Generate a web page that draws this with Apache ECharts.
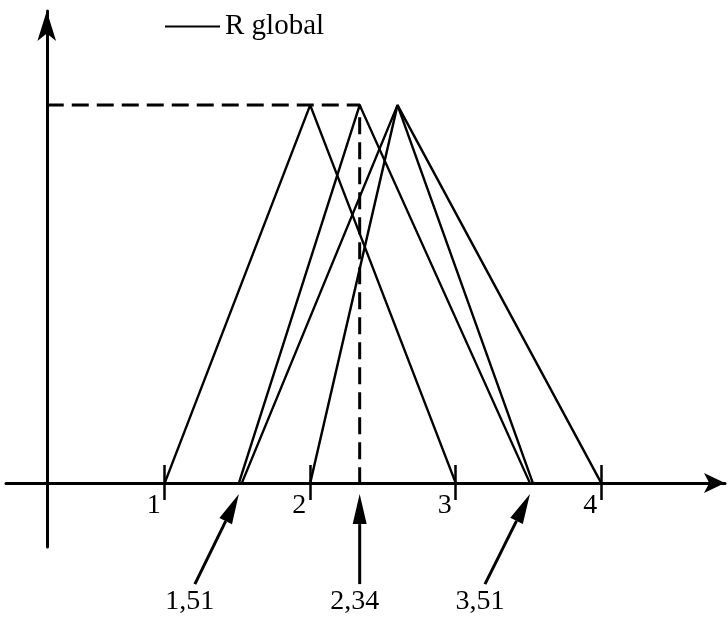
<!DOCTYPE html>
<html>
<head>
<meta charset="utf-8">
<script src="https://cdn.jsdelivr.net/npm/echarts@6/dist/echarts.min.js"></script>
<style>
  html, body { margin: 0; padding: 0; background: #fff; }
  #chart { width: 728px; height: 618px; }
</style>
</head>
<body>
<div id="chart"></div>
<script>
// Triangular fuzzy numbers: [left foot, peak, right foot]
const ratingA = [1, 2, 3];
const ratingB = [1.53, 2.6, 3.53];
const ratingC = [2, 2.6, 4];
const rGlobal = [1.51, 2.34, 3.51];
const xTicks = [1, 2, 3, 4];

const FONT = '"Liberation Serif", "DejaVu Serif", serif';
const INK = '#000';

// x extent of the drawing and where the vertical axis crosses it
const X_MIN = -0.09, X_MAX = 4.85, Y_AXIS_AT = 0.19;
const Y_MIN = -0.169, Y_MAX = 1.249;

function triangle(t) {
  return [[t[0], 0], [t[1], 1], [t[2], 0]];
}

function lineSeries(name, data, extra) {
  return Object.assign({
    name: name,
    type: 'line',
    data: data,
    symbol: 'none',
    showSymbol: false,
    silent: true,
    color: INK,
    lineStyle: { color: INK, width: 2.4 },
    z: 3
  }, extra || {});
}

// Arrows under the axis pointing at the global rating's feet and peak
const arrowLean = [-44, 0, -45];
function renderArrow(params, api) {
  const v = api.value(0);
  const base = api.coord([v, 0]);
  const tip = [base[0], base[1] + 11];
  const lean = arrowLean[params.dataIndex];
  const tail = [tip[0] + lean, tip[1] + 90];
  const dx = tip[0] - tail[0], dy = tip[1] - tail[1];
  const len = Math.sqrt(dx * dx + dy * dy);
  const ux = dx / len, uy = dy / len;
  const headLen = 30, headHalf = 7;
  const hb = [tip[0] - ux * headLen, tip[1] - uy * headLen];
  const px = -uy, py = ux;
  return {
    type: 'group',
    children: [
      {
        type: 'line',
        shape: { x1: tail[0], y1: tail[1], x2: hb[0], y2: hb[1] },
        style: { stroke: INK, lineWidth: 3 }
      },
      {
        type: 'polygon',
        shape: { points: [tip, [hb[0] + px * headHalf, hb[1] + py * headHalf], [hb[0] - px * headHalf, hb[1] - py * headHalf]] },
        style: { fill: INK }
      },
      {
        type: 'text',
        x: tail[0] - 5,
        y: tail[1] + 18,
        style: {
          text: v.toFixed(2).replace('.', ','),
          font: '28px ' + FONT,
          fill: INK,
          align: 'center',
          verticalAlign: 'middle'
        }
      }
    ]
  };
}

const chart = echarts.init(document.getElementById('chart'), null, { renderer: 'canvas' });

chart.setOption({
  animation: false,
  backgroundColor: '#fff',
  color: [INK],
  textStyle: { fontFamily: FONT, color: INK },
  legend: {
    data: [{ name: 'R global', icon: 'rect' }],
    left: 165,
    top: 12,
    padding: 0,
    itemWidth: 55,
    itemHeight: 2,
    itemStyle: { color: INK, borderWidth: 0 },
    textStyle: { fontFamily: FONT, fontSize: 29, color: INK, padding: [0, 0, 0, 0] },
    selectedMode: false
  },
  grid: { left: 6, right: 3, top: 11, bottom: 71, containLabel: false },
  xAxis: [
    {
      type: 'value',
      position: 'bottom',
      min: X_MIN,
      max: X_MAX,
      axisLine: {
        onZero: true,
        onZeroAxisIndex: 0,
        lineStyle: { color: INK, width: 3 },
        symbol: ['none', 'arrow'],
        symbolSize: [15, 21]
      },
      axisTick: {
        show: true,
        customValues: xTicks,
        length: 17,
        lineStyle: { color: INK, width: 2.5 }
      },
      axisLabel: {
        customValues: xTicks,
        formatter: function (v) { return String(v); },
        fontFamily: FONT,
        fontSize: 28,
        color: INK,
        align: 'right',
        padding: [0, 4, 0, 0],
        // labels are laid out from the plot's lower edge; pull them up under the zero line
        margin: -55
      },
      splitLine: { show: false }
    },
    {
      // locates the vertical axis along the horizontal one
      type: 'value',
      show: false,
      min: X_MIN - Y_AXIS_AT,
      max: X_MAX - Y_AXIS_AT,
      axisLine: { onZero: false },
      splitLine: { show: false }
    },
    {
      // upper halves of the tick marks
      type: 'value',
      position: 'bottom',
      min: X_MIN,
      max: X_MAX,
      axisLine: { show: false, onZero: true, onZeroAxisIndex: 0 },
      axisTick: {
        show: true,
        inside: true,
        customValues: xTicks,
        length: 18,
        lineStyle: { color: INK, width: 2.5 }
      },
      axisLabel: { show: false },
      splitLine: { show: false }
    }
  ],
  yAxis: {
    type: 'value',
    min: Y_MIN,
    max: Y_MAX,
    axisLine: {
      onZero: true,
      onZeroAxisIndex: 1,
      lineStyle: { color: INK, width: 3 },
      symbol: ['none', 'arrow'],
      symbolSize: [14, 30]
    },
    axisTick: { show: false },
    axisLabel: { show: false },
    splitLine: { show: false }
  },
  series: [
    lineSeries('A', triangle(ratingA)),
    lineSeries('B', triangle(ratingB)),
    lineSeries('C', triangle(ratingC)),
    lineSeries('R global', triangle(rGlobal)),
    lineSeries('R global peak', [[Y_AXIS_AT, 1], [rGlobal[1], 1], [rGlobal[1], 0]], {
      lineStyle: { color: INK, width: 3, type: [17, 8] },
      z: 2
    }),
    {
      name: 'markers',
      type: 'custom',
      xAxisIndex: 0,
      yAxisIndex: 0,
      silent: true,
      clip: false,
      renderItem: renderArrow,
      data: rGlobal.map(function (v) { return [v]; })
    }
  ]
});
</script>
</body>
</html>
